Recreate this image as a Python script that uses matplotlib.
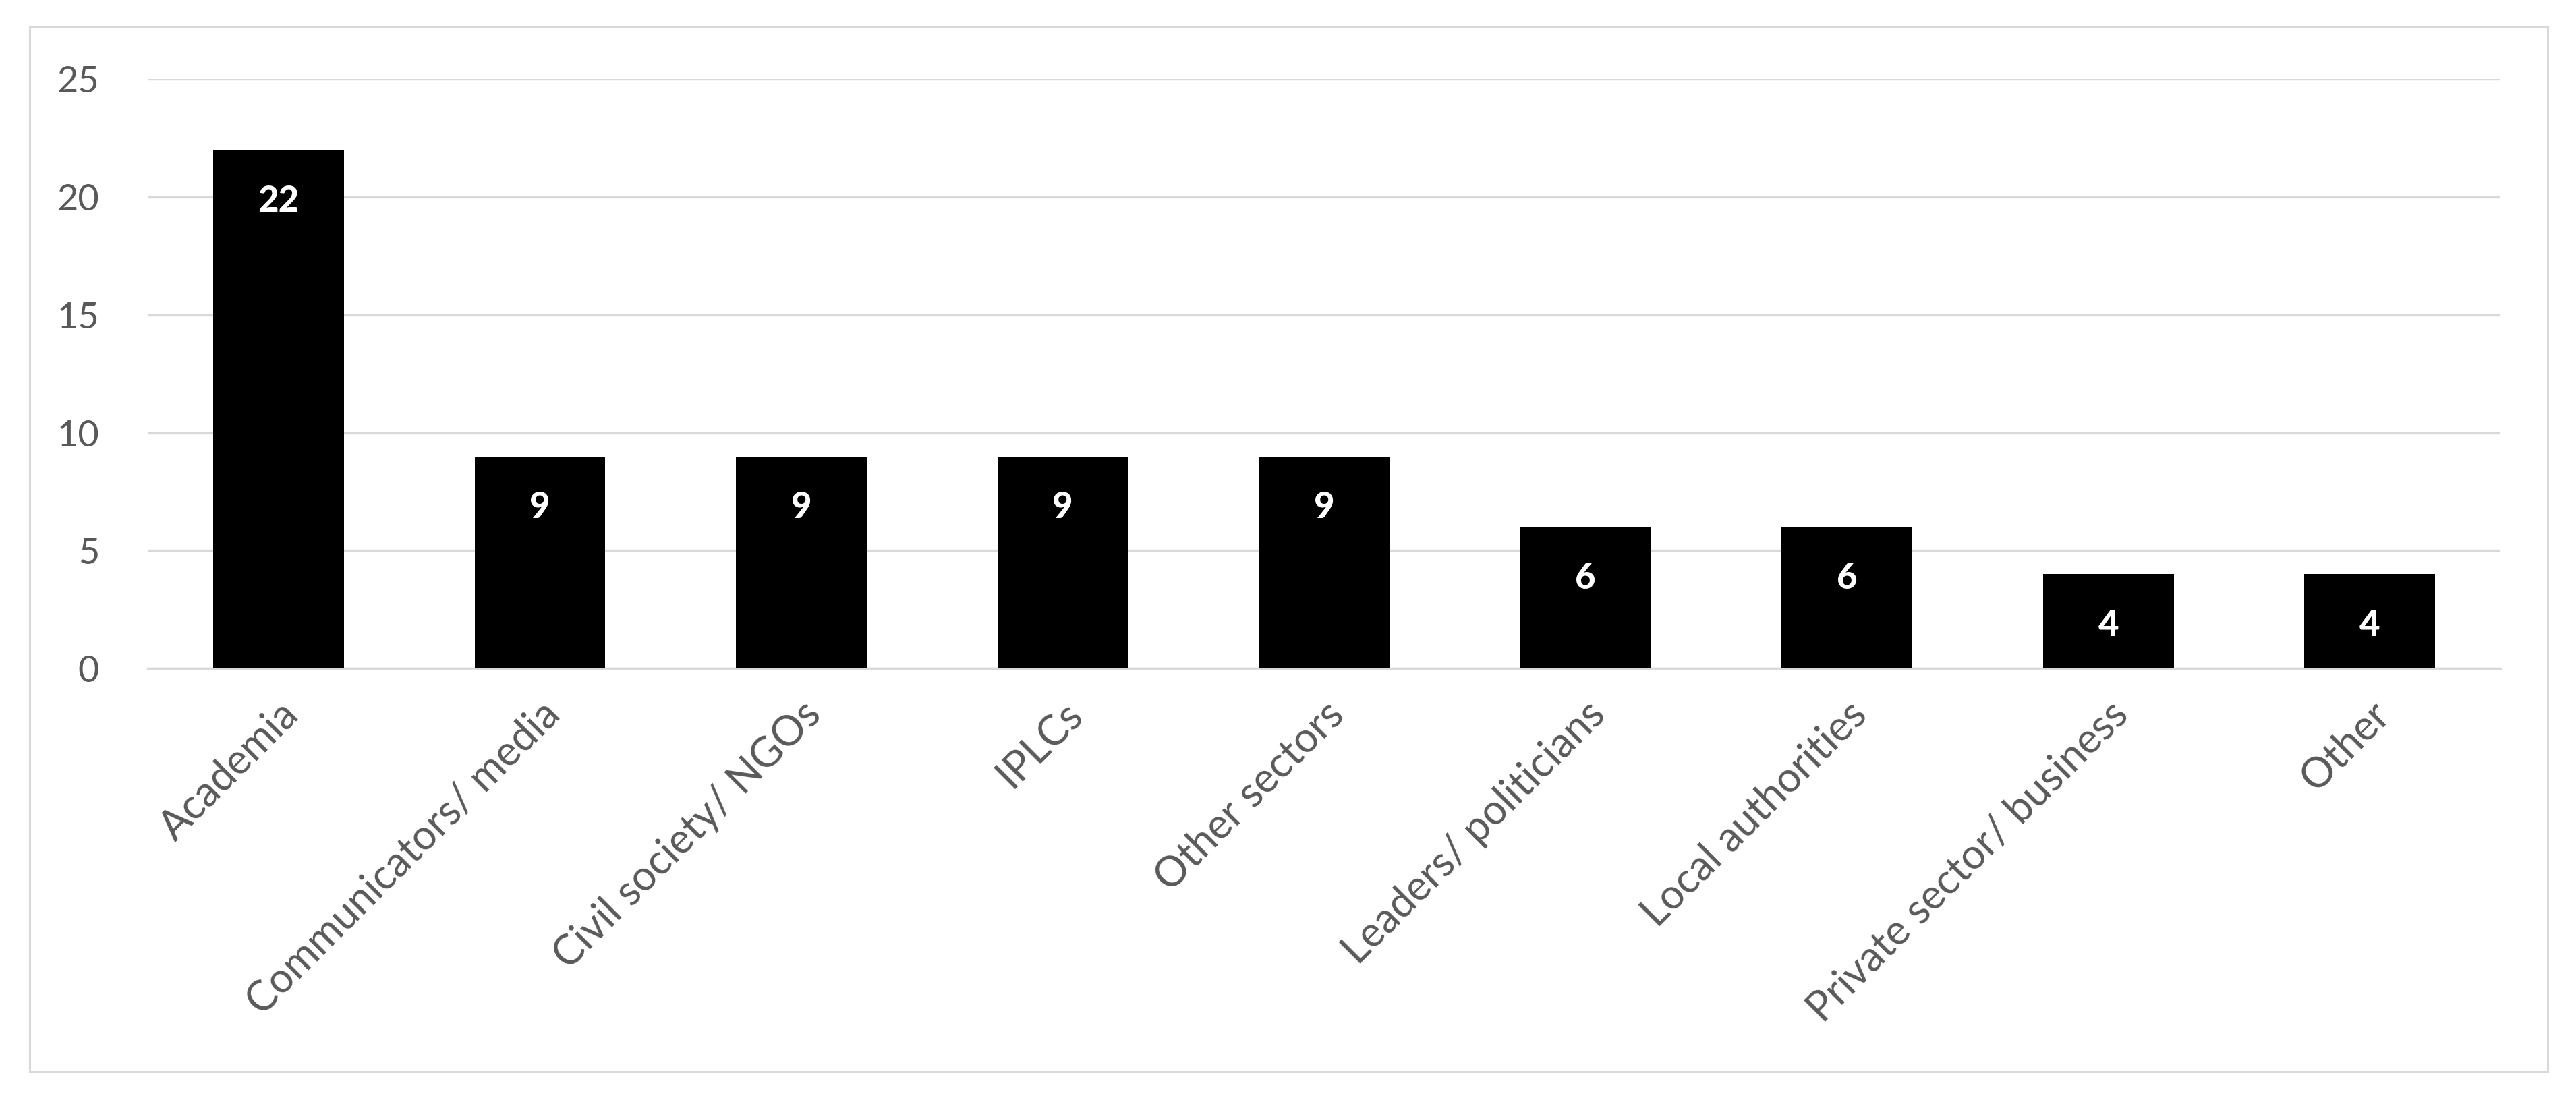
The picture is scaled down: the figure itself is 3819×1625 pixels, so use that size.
import matplotlib.pyplot as plt
from matplotlib.patches import Rectangle

categories = ['Academia', 'Communicators/ media', 'Civil society/ NGOs', 'IPLCs',
              'Other sectors', 'Leaders/ politicians', 'Local authorities',
              'Private sector/ business', 'Other']
counts = [22, 9, 9, 9, 9, 6, 6, 4, 4]
y_ticks = [0, 5, 10, 15, 20, 25]

plt.rcParams['font.family'] = ['Lato', 'DejaVu Sans']

fig = plt.figure(figsize=(38.19, 16.25), dpi=100)
ax = fig.add_axes([0.0574, 0.390, 0.9133, 0.538])

# Outer chart border (Excel style).
fig.patches.append(Rectangle((0.0115, 0.022), 0.9776, 0.954, transform=fig.transFigure,
                             fill=False, edgecolor='#d9d9d9', linewidth=2.2))

x = list(range(len(categories)))
ax.bar(x, counts, width=0.5, color='black', zorder=3)

# Value labels inside the top of each bar.
for xi, v in zip(x, counts):
    ax.annotate(str(v), (xi, v), xytext=(0, -55), textcoords='offset points',
                ha='center', va='center', color='white', fontsize=38, fontweight='black',
                zorder=4)

ax.set_xlim(-0.5, len(categories) - 0.5)
ax.set_ylim(0, 25)
ax.set_yticks(y_ticks)
ax.set_yticklabels([str(t) for t in y_ticks], fontsize=39, color='#595959')
ax.set_xticks(x)
ax.set_xticklabels(categories, rotation=45, ha='right', rotation_mode='anchor',
                   fontsize=44, color='#595959')
ax.tick_params(axis='both', length=0)
ax.tick_params(axis='y', pad=52)
ax.tick_params(axis='x', pad=28)

ax.grid(axis='y', color='#d9d9d9', linewidth=2.4, zorder=0)
for s in ['top', 'right', 'left']:
    ax.spines[s].set_visible(False)
ax.spines['bottom'].set_color('#d9d9d9')
ax.spines['bottom'].set_linewidth(2.4)

fig.savefig('out.png', dpi=100)
plt.close()
